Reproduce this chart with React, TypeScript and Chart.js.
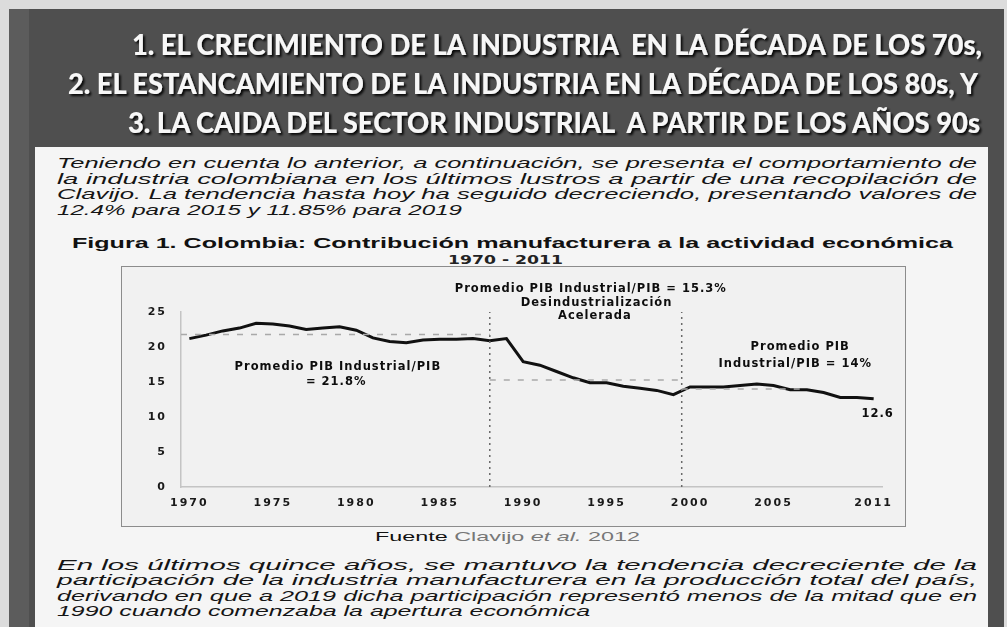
import React, { useEffect, useRef } from "react";
import { Chart, registerables } from "chart.js";

Chart.register(...registerables);

// ---------- data ----------
const years = [
  1970, 1971, 1972, 1973, 1974, 1975, 1976, 1977, 1978, 1979,
  1980, 1981, 1982, 1983, 1984, 1985, 1986, 1987, 1988, 1989,
  1990, 1991, 1992, 1993, 1994, 1995, 1996, 1997, 1998, 1999,
  2000, 2001, 2002, 2003, 2004, 2005, 2006, 2007, 2008, 2009,
  2010, 2011,
];
const industryShare = [
  21.2, 21.7, 22.3, 22.7, 23.4, 23.3, 23.0, 22.5, 22.7, 22.9,
  22.4, 21.3, 20.8, 20.6, 21.0, 21.1, 21.1, 21.2, 20.9, 21.2,
  17.9, 17.4, 16.5, 15.6, 14.9, 14.9, 14.4, 14.1, 13.8, 13.2,
  14.3, 14.3, 14.3, 14.5, 14.7, 14.5, 13.9, 13.9, 13.5, 12.8,
  12.8, 12.6,
];
const xTickYears = [1970, 1975, 1980, 1985, 1990, 1995, 2000, 2005, 2011];
const yTickValues = [0, 5, 10, 15, 20, 25];

// period averages (dashed reference lines)
const avgValues = [21.8, 15.3, 14];
const avgFrom = [1969.5, 1988, 1999.5];
const avgTo = [1988, 1999.5, 2007];
// period breaks (dotted vertical lines)
const periodBreaks = [1988, 1999.5];

// annotations (text, x in years, y in % units)
const noteTexts = [
  "Promedio PIB Industrial/PIB",
  "= 21.8%",
  "Promedio PIB Industrial/PIB = 15.3%",
  "Desindustrialización",
  "Acelerada",
  "Promedio PIB",
  "Industrial/PIB = 14%",
];
const noteX = [1978.9, 1978.8, 1994.05, 1994.4, 1994.3, 2006.6, 2006.3];
const noteY = [17.1, 15.0, 28.3, 26.3, 24.4, 20.0, 17.6];

// ---------- page texts ----------
const titleLines = [
  "1. EL CRECIMIENTO DE LA INDUSTRIA  EN LA DÉCADA DE LOS 70s,",
  "2. EL ESTANCAMIENTO DE LA INDUSTRIA EN LA DÉCADA DE LOS 80s, Y",
  "3. LA CAIDA DEL SECTOR INDUSTRIAL  A PARTIR DE LOS AÑOS 90s",
];
const introLines = [
  "Teniendo en cuenta lo anterior, a continuación, se presenta el comportamiento de",
  "la industria colombiana en los últimos lustros a partir de una recopilación de",
  "Clavijo. La tendencia hasta hoy ha seguido decreciendo, presentando valores de",
  "12.4% para 2015 y 11.85% para 2019",
];
const closingLines = [
  "En los últimos quince años, se mantuvo la tendencia decreciente de la",
  "participación de la industria manufacturera en la producción total del país,",
  "derivando en que a 2019 dicha participación representó menos de la mitad que en",
  "1990 cuando comenzaba la apertura económica",
];
const figureTitle = "Figura 1. Colombia: Contribución manufacturera a la actividad económica";
const figurePeriod = "1970 - 2011";

const notesPlugin = {
  id: "notes",
  beforeDraw(chart: any) {
    (chart.ctx as any).letterSpacing = "2px";
  },
  afterDatasetsDraw(chart: any) {
    const { ctx, scales } = chart;
    const xs = scales.x;
    const ys = scales.y;
    ctx.save();
    (ctx as any).letterSpacing = "1px";
    ctx.font = "bold 11.5px 'DejaVu Sans'";
    ctx.fillStyle = "#0d0d0d";
    ctx.textAlign = "center";
    ctx.textBaseline = "middle";
    noteTexts.forEach((t, i) => {
      ctx.fillText(t, xs.getPixelForValue(noteX[i]), ys.getPixelForValue(noteY[i]));
    });
    // last value label
    const li = years.length - 1;
    const lx = xs.getPixelForValue(years[li]);
    const ly = ys.getPixelForValue(industryShare[li]);
    ctx.fillText(industryShare[li].toFixed(1), lx + 4, ly + 15);
    ctx.restore();
  },
};

export default function App() {
  const ref = useRef<HTMLCanvasElement>(null);

  useEffect(() => {
    const datasets: any[] = [];
    avgValues.forEach((v, i) => {
      datasets.push({
        label: "avg" + i,
        data: [
          { x: avgFrom[i], y: v },
          { x: avgTo[i], y: v },
        ],
        borderColor: "#a9a9a9",
        borderWidth: 1.5,
        borderDash: [6, 8],
        pointRadius: 0,
      });
    });
    periodBreaks.forEach((b, i) => {
      datasets.push({
        label: "break" + i,
        data: [
          { x: b, y: 0 },
          { x: b, y: 25 },
        ],
        borderColor: "#6a6a6a",
        borderWidth: 1.5,
        borderDash: [2, 4],
        pointRadius: 0,
      });
    });
    datasets.push({
      label: "PIB industrial / PIB",
      data: years.map((y, i) => ({ x: y, y: industryShare[i] })),
      borderColor: "#111",
      borderWidth: 3,
      pointRadius: 0,
      tension: 0,
    });

    const chart = new Chart(ref.current as HTMLCanvasElement, {
      type: "line",
      data: { datasets },
      plugins: [notesPlugin],
      options: {
        animation: false,
        responsive: false,
        devicePixelRatio: 1,
        layout: { padding: { top: 45, right: 23, left: 0, bottom: 0 } },
        plugins: { legend: { display: false }, tooltip: { enabled: false } },
        scales: {
          x: {
            type: "linear",
            min: 1969.5,
            max: 2011.5,
            grid: { display: false, drawTicks: false },
            border: { display: true, color: "#c4c4c4", width: 1.5 },
            afterBuildTicks: (s: any) => {
              s.ticks = xTickYears.map((v) => ({ value: v }));
            },
            afterFit: (s: any) => {
              s.height = 39;
            },
            ticks: {
              padding: 10,
              color: "#1a1a1a",
              font: { family: "'DejaVu Sans'", size: 11, weight: "bold" },
              callback: (v: any) => String(v),
              maxRotation: 0,
              autoSkip: false,
            },
          },
          y: {
            min: 0,
            max: 25,
            grid: { display: false, drawTicks: false },
            border: { display: true, color: "#c4c4c4", width: 1.5 },
            afterBuildTicks: (s: any) => {
              s.ticks = yTickValues.map((v) => ({ value: v }));
            },
            afterFit: (s: any) => {
              s.width = 59;
            },
            ticks: {
              padding: 14,
              color: "#1a1a1a",
              font: { family: "'DejaVu Sans'", size: 11, weight: "bold" },
              callback: (v: any) => String(v),
            },
          },
        },
      } as any,
    });
    return () => chart.destroy();
  }, []);

  const bodyFont = "'Liberation Sans', Arial, sans-serif";

  return (
    <div
      style={{
        position: "fixed",
        left: 0,
        top: 0,
        width: 1007,
        height: 627,
        overflow: "hidden",
        background: "#dcdcdc",
      }}
    >
      <svg width={1007} height={627} style={{ position: "absolute", left: 0, top: 0 }}>
        <defs>
          <filter id="sh" x="-5%" y="-30%" width="110%" height="160%">
            <feDropShadow dx="2" dy="2" stdDeviation="1" floodColor="#000" floodOpacity="0.9" />
          </filter>
        </defs>
        <rect x={9} y={9} width={995} height={618} fill="#4f4f4f" />
        <rect x={9} y={9} width={20} height={618} fill="#5c5c5c" />
        <rect x={35} y={147} width={953} height={480} fill="#f5f5f5" />

        {titleLines.map((t, i) => {
          const xs = [132, 68, 128];
          const ws = [850, 910, 852];
          const bs = [55, 94, 133];
          return (
            <text
              key={i}
              x={xs[i]}
              y={bs[i]}
              textLength={ws[i]}
              lengthAdjust="spacingAndGlyphs"
              fill="#f7f7f7"
              filter="url(#sh)"
              style={{ font: "900 29px Lato, 'Open Sans', sans-serif", whiteSpace: "pre" }}
            >
              {t}
            </text>
          );
        })}

        {introLines.map((t, i) => (
          <text
            key={"i" + i}
            x={57}
            y={168 + i * 15.6}
            textLength={i < 3 ? 920 : 405}
            lengthAdjust="spacingAndGlyphs"
            fill="#151515"
            style={{ font: `italic 14px ${bodyFont}` }}
          >
            {t}
          </text>
        ))}

        <text
          x={72}
          y={248}
          textLength={881}
          lengthAdjust="spacingAndGlyphs"
          fill="#111"
          style={{ font: `bold 15px ${bodyFont}` }}
        >
          {figureTitle}
        </text>
        <text
          x={448}
          y={264}
          textLength={115}
          lengthAdjust="spacingAndGlyphs"
          fill="#222"
          style={{ font: "bold 13px 'DejaVu Sans', sans-serif" }}
        >
          {figurePeriod}
        </text>

        <text
          x={375}
          y={541}
          textLength={265}
          lengthAdjust="spacingAndGlyphs"
          style={{ font: `13.5px ${bodyFont}` }}
        >
          <tspan fill="#111">Fuente </tspan>
          <tspan fill="#777">Clavijo </tspan>
          <tspan fill="#777" fontStyle="italic">et al. </tspan>
          <tspan fill="#777">2012</tspan>
        </text>

        {closingLines.map((t, i) => (
          <text
            key={"c" + i}
            x={57}
            y={570 + i * 15.3}
            textLength={i < 3 ? 920 : 533}
            lengthAdjust="spacingAndGlyphs"
            fill="#151515"
            style={{ font: `italic 14px ${bodyFont}` }}
          >
            {t}
          </text>
        ))}
      </svg>

      <div
        style={{
          position: "absolute",
          left: 121,
          top: 266,
          width: 783,
          height: 259,
          border: "1px solid #8c8c8c",
          background: "#f1f1f1",
        }}
      >
        <canvas ref={ref} width={783} height={259} style={{ display: "block", width: 783, height: 259 }} />
      </div>
    </div>
  );
}
